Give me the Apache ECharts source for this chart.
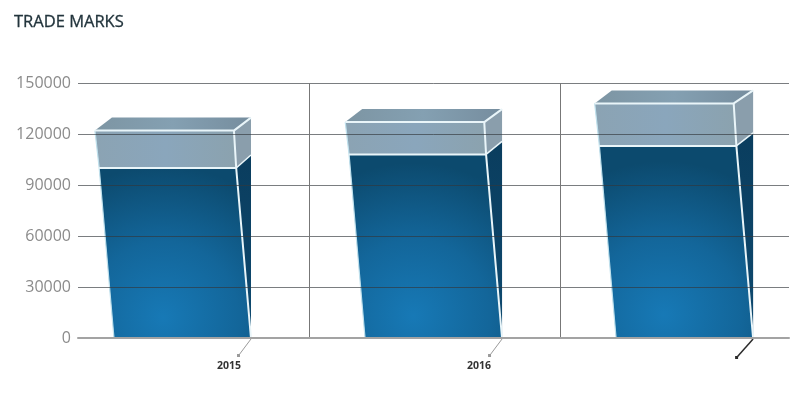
<!DOCTYPE html>
<html><head><meta charset="utf-8">
<style>html,body{margin:0;padding:0;background:#fff}#c{width:800px;height:405px}</style>
<script src="https://cdn.jsdelivr.net/npm/echarts@6/dist/echarts.min.js"></script>
</head><body><div id="c"></div>
<script>
const categories = ['2015', '2016', ''];
const lowerValues = [100000, 108000, 113000];
const totalValues = [122000, 127000, 138000];
const yTicks = [0, 30000, 60000, 90000, 120000, 150000];

const chart = echarts.init(document.getElementById('c'), null, {renderer: 'canvas'});
const edge = {stroke: '#e9f5f9', lineWidth: 2, lineJoin: 'round'};
function poly(points, fill, stroke) {
  return {type: 'polygon', shape: {points}, style: Object.assign({fill}, stroke ? edge : {stroke: 'none'})};
}
function lin(x0, y0, x1, y1, stops) {
  return new echarts.graphic.LinearGradient(x0, y0, x1, y1, stops.map((c, i) => ({offset: i / (stops.length - 1), color: c})));
}
function renderBar(params, api) {
  const i = api.value(0);
  const base = api.coord([i, 0]);
  const low = api.coord([i, api.value(1)]);
  const tot = api.coord([i, api.value(2)]);
  const R = base[0], B = base[1];
  const W = 137, lean = 0.087, dy = 13, dx = 17;
  const shift = y => (B - y) * lean;
  const bl = [R - W, B], br = [R, B];
  const ll = [R - W - shift(low[1]) , low[1]], lr = [R - shift(low[1]), low[1]];
  const tl = [R - W - shift(tot[1]) - 1, tot[1]], tr = [R - shift(tot[1]) + 1, tot[1]];
  const children = [
    poly([bl, br, lr, ll], new echarts.graphic.RadialGradient(0.42, 0.88, 1.0, [
      {offset: 0, color: '#1779b6'}, {offset: 0.5, color: '#13669a'}, {offset: 1, color: '#0c4a6e'}]), false),
    poly([br, [R, low[1] - dy], lr], lin(0, 0, 0, 1, ['#0a3d5e', '#0e4a70']), false),
    poly([ll, lr, tr, tl], lin(0, 0, 1, 0, ['#8ba3b3', '#8aa6bc', '#8ba2ae']), false),
    poly([lr, [R, low[1] - dy], [R, tot[1] - dy], tr], '#8a9eac', false),
    poly([tl, tr, [R, tot[1] - dy], [tl[0] + dx, tot[1] - dy]], lin(0, 0, 1, 0, ['#7d95a3', '#84a0b2', '#768d9e']), false),
    {type: 'polyline', shape: {points: [bl, ll, tl]}, style: Object.assign({fill: 'none'}, edge, {lineWidth: 1.2, stroke: '#bfe0ec'})},
    {type: 'polyline', shape: {points: [ll, lr]}, style: Object.assign({fill: 'none'}, edge)},
    {type: 'polyline', shape: {points: [tl, tr, [R, tot[1] - dy]]}, style: Object.assign({fill: 'none'}, edge)},
    {type: 'polyline', shape: {points: [br, lr, tr]}, style: Object.assign({fill: 'none'}, edge)},
    {type: 'polyline', shape: {points: [lr, [R, low[1] - dy]]}, style: Object.assign({fill: 'none'}, edge, {lineWidth: 1.5})}
  ];
  const hasLabel = !!categories[i];
  const end = hasLabel ? [R - 12, B + 17] : [R - 16, B + 19];
  const col = hasLabel ? '#9a9a9a' : '#2b2b2b';
  children.push({type: 'polyline', shape: {points: [[R, B + 1], end]}, style: {stroke: col, lineWidth: hasLabel ? 1 : 1.5, fill: 'none'}});
  children.push({type: 'rect', shape: {x: end[0] - 2, y: end[1] - 1, width: 3, height: 3}, style: {fill: col}});
  return {type: 'group', children};
}
chart.setOption({
  animation: false,
  backgroundColor: '#fff',
  title: {text: 'TRADE MARKS', left: 9, top: 9,
    textStyle: {fontFamily: 'Open Sans', fontSize: 16.5, fontWeight: 'normal', color: '#22343c',
      textBorderColor: '#22343c', textBorderWidth: 0.3}},
  grid: {left: 78, right: 11, top: 83, bottom: 67, containLabel: false},
  xAxis: {
    type: 'value', min: -0.689, max: 2.143, z: 5, silent: true,
    axisLine: {show: true, onZero: true, lineStyle: {color: '#a3a3a3', width: 2}},
    axisTick: {show: false, customValues: [0.231, 1.231]},
    splitLine: {show: true, lineStyle: {color: '#777', width: 1}},
    axisLabel: {
      show: true, customValues: [-0.088, 0.908], margin: 23, hideOverlap: false,
      fontFamily: 'Open Sans', fontWeight: 'bold', fontSize: 10.5, color: '#333',
      formatter: v => categories[Math.round(v + 0.088)] || ''
    }
  },
  yAxis: {
    type: 'value', min: 0, max: 150000, interval: 30000, z: 5,
    axisLine: {show: false}, axisTick: {show: false},
    splitLine: {show: true, lineStyle: {color: 'rgba(50,55,60,0.65)', width: 1}},
    axisLabel: {margin: 7, fontFamily: 'Open Sans', fontSize: 16, color: '#8b8b8b',
      formatter: v => yTicks.includes(v) ? String(v) : ''}
  },
  series: [{
    type: 'custom', z: 1, silent: true, clip: false,
    renderItem: renderBar,
    encode: {x: 0, y: [1, 2]},
    data: categories.map((c, i) => [i, lowerValues[i], totalValues[i]])
  }]
});
</script></body></html>
